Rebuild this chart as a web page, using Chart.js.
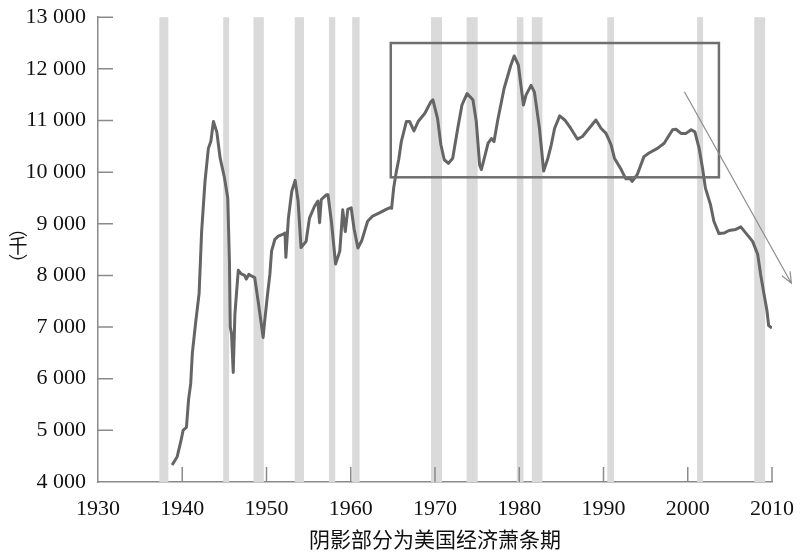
<!DOCTYPE html>
<html>
<head>
<meta charset="utf-8">
<script src="https://cdn.jsdelivr.net/npm/chart.js@4"></script>
<style>
    html, body { margin: 0; padding: 0; background: #fff; }
    #wrap { width: 800px; height: 554px; }
</style>
</head>
<body>
<div id="wrap"><canvas id="chart"></canvas></div>
<script>
// manufacturing employment, thousands
var years = [
    1938.8, 1939.4, 1939.85, 1940.1, 1940.5, 1940.75, 1941.0, 1941.2, 1941.6, 1942.0,
    1942.3, 1942.7, 1943.1, 1943.4, 1943.7, 1944.1, 1944.5, 1945.0, 1945.4, 1945.6,
    1945.7, 1945.85, 1946.05, 1946.25, 1946.65, 1947.0, 1947.4, 1947.6, 1947.9, 1948.2,
    1948.6, 1949.0, 1949.6, 1949.75, 1950.1, 1950.4, 1950.6, 1951.0, 1951.4, 1952.0,
    1952.2, 1952.3, 1952.6, 1953.0, 1953.4, 1953.75, 1954.1, 1954.7, 1955.1, 1955.7,
    1956.1, 1956.3, 1956.5, 1957.1, 1957.3, 1957.7, 1958.2, 1958.7, 1959.05, 1959.35,
    1959.65, 1960.05, 1960.4, 1960.85, 1961.3, 1962.0, 1962.6, 1963.4, 1964.2, 1964.6,
    1964.85, 1965.1, 1965.4, 1965.7, 1966.0, 1966.6, 1967.0, 1967.5, 1968.0, 1968.8,
    1969.5, 1969.75, 1970.3, 1970.7, 1971.1, 1971.6, 1972.1, 1972.7, 1973.2, 1973.8,
    1974.5, 1974.9, 1975.3, 1975.5, 1975.9, 1976.3, 1976.7, 1977.0, 1977.45, 1978.2,
    1979.0, 1979.4, 1979.9, 1980.2, 1980.5, 1980.8, 1981.4, 1981.8, 1982.4, 1982.9,
    1983.4, 1983.8, 1984.2, 1984.8, 1985.4, 1986.1, 1986.9, 1987.5, 1988.3, 1989.1,
    1989.7, 1990.3, 1990.9, 1991.3, 1992.1, 1992.65, 1993.2, 1993.4, 1994.0, 1994.8,
    1995.4, 1996.4, 1997.2, 1998.2, 1998.6, 1999.2, 1999.8, 2000.4, 2000.85, 2001.35,
    2001.75, 2002.1, 2002.7, 2003.1, 2003.7, 2004.3, 2004.9, 2005.7, 2006.3, 2006.9,
    2007.7, 2008.3, 2008.65, 2009.05, 2009.4, 2009.6, 2010.0
];
var employment = [
    4330, 4490, 4800, 5000, 5060, 5600, 5900, 6500, 7100, 7650,
    8850, 9820, 10460, 10600, 10980, 10780, 10270, 9900, 9500, 8280,
    7000, 6870, 6120, 7250, 8100, 8030, 8000, 7930, 8020, 7990,
    7960, 7510, 6800, 7060, 7600, 8020, 8470, 8700, 8760, 8800,
    8820, 8350, 9110, 9630, 9840, 9440, 8540, 8660, 9110, 9340,
    9440, 9020, 9470, 9560, 9560, 9050, 8220, 8470, 9270, 8850,
    9280, 9310, 8900, 8530, 8670, 9050, 9150, 9210, 9280, 9310,
    9300, 9700, 10000, 10250, 10590, 10980, 10980, 10800, 10980, 11140,
    11360, 11400, 11040, 10530, 10240, 10170, 10270, 10850, 11300, 11520,
    11400, 10980, 10140, 10050, 10300, 10560, 10650, 10590, 11010, 11620,
    12070, 12250, 12070, 11680, 11300, 11490, 11680, 11550, 10850, 10020,
    10270, 10530, 10850, 11090, 11010, 10850, 10640, 10690, 10850, 11010,
    10850, 10750, 10530, 10270, 10050, 9870, 9870, 9820, 9950, 10300,
    10370, 10460, 10560, 10820, 10830, 10750, 10750, 10820, 10780, 10460,
    10080, 9690, 9370, 9050, 8810, 8820, 8870, 8890, 8940, 8820,
    8660, 8410, 8020, 7640, 7320, 7030, 6980
];

// recession periods (shaded)
var recStart = [1937.28, 1944.86, 1948.45, 1953.35, 1957.41, 1960.17, 1969.53, 1973.75, 1979.71, 1981.49, 1990.45, 2001.11, 2007.89];
var recEnd   = [1938.35, 1945.57, 1949.68, 1954.45, 1958.16, 1961.05, 1970.83, 1975.06, 1980.50, 1982.75, 1991.24, 2001.82, 2009.19];

// highlight box and trend arrow
var boxYears = [1964.75, 2003.7];
var boxValues = [9900, 12500];
var arrowYears = [1999.6, 2012.3];
var arrowValues = [11555, 7850];

var xTicks = [1930, 1940, 1950, 1960, 1970, 1980, 1990, 2000, 2010];
var yTicks = [4000, 5000, 6000, 7000, 8000, 9000, 10000, 11000, 12000, 13000];
var xTitle = '阴影部分为美国经济萧条期';
var yTitle = ['︵', '千', '︶'];

var axisColor = '#8a8a8a';

var overlay = {
    id: 'overlay',
    beforeDatasetsDraw: function (chart) {
        var ctx = chart.ctx;
        var a = chart.chartArea;
        var xs = chart.scales.x;
        ctx.save();
        ctx.fillStyle = '#dadada';
        for (var i = 0; i < recStart.length; i++) {
            var x0 = xs.getPixelForValue(recStart[i]);
            var x1 = xs.getPixelForValue(recEnd[i]);
            ctx.fillRect(x0, a.top, x1 - x0, a.bottom - a.top);
        }
        ctx.restore();
    },
    afterDatasetsDraw: function (chart) {
        var ctx = chart.ctx;
        var a = chart.chartArea;
        var xs = chart.scales.x;
        var ys = chart.scales.y;
        ctx.save();

        // inward tick marks
        ctx.strokeStyle = axisColor;
        ctx.lineWidth = 1.5;
        ctx.beginPath();
        yTicks.forEach(function (v) {
            if (v === yTicks[0]) return;
            var py = ys.getPixelForValue(v);
            ctx.moveTo(a.left, py);
            ctx.lineTo(a.left + 15, py);
        });
        xTicks.forEach(function (v) {
            if (v === xTicks[0]) return;
            var px = xs.getPixelForValue(v);
            ctx.moveTo(px, a.bottom);
            ctx.lineTo(px, a.bottom - 15);
        });
        ctx.stroke();

        // box
        var bx0 = xs.getPixelForValue(boxYears[0]);
        var bx1 = xs.getPixelForValue(boxYears[1]);
        var by0 = ys.getPixelForValue(boxValues[1]);
        var by1 = ys.getPixelForValue(boxValues[0]);
        ctx.strokeStyle = '#6f6f6f';
        ctx.lineWidth = 2.5;
        ctx.strokeRect(bx0, by0, bx1 - bx0, by1 - by0);

        // arrow
        var ax0 = xs.getPixelForValue(arrowYears[0]);
        var ay0 = ys.getPixelForValue(arrowValues[0]);
        var ax1 = xs.getPixelForValue(arrowYears[1]);
        var ay1 = ys.getPixelForValue(arrowValues[1]);
        var ang = Math.atan2(ay1 - ay0, ax1 - ax0);
        ctx.strokeStyle = '#8c8c8c';
        ctx.lineWidth = 1.2;
        ctx.beginPath();
        ctx.moveTo(ax0, ay0);
        ctx.lineTo(ax1, ay1);
        ctx.moveTo(ax1 - 12 * Math.cos(ang - 0.4), ay1 - 12 * Math.sin(ang - 0.4));
        ctx.lineTo(ax1, ay1);
        ctx.lineTo(ax1 - 12 * Math.cos(ang + 0.4), ay1 - 12 * Math.sin(ang + 0.4));
        ctx.stroke();

        // vertical y title
        ctx.fillStyle = '#111';
        ctx.font = '19px "Noto Sans CJK SC"';
        ctx.textAlign = 'center';
        ctx.textBaseline = 'middle';
        var ty = 228;
        yTitle.forEach(function (ch, i) {
            ctx.fillText(ch, 18, ty + i * 18);
        });
        ctx.restore();
    }
};

var ctx = document.getElementById('chart').getContext('2d');
new Chart(ctx, {
    type: 'line',
    data: {
        datasets: [{
            data: years.map(function (y, i) { return { x: y, y: employment[i] }; }),
            borderColor: '#656565',
            borderWidth: 3,
            pointRadius: 0,
            tension: 0,
            borderJoinStyle: 'round',
            fill: false
        }]
    },
    options: {
        responsive: true,
        maintainAspectRatio: false,
        animation: false,
        layout: { padding: { top: 10, right: 21, left: 0, bottom: 0 } },
        plugins: {
            legend: { display: false },
            tooltip: { enabled: false }
        },
        scales: {
            x: {
                type: 'linear',
                min: 1930,
                max: 2010,
                afterBuildTicks: function (scale) {
                    scale.ticks = xTicks.map(function (v) { return { value: v }; });
                },
                afterFit: function (scale) { scale.height = 72; },
                grid: { display: false },
                border: { display: true, color: axisColor, width: 1.5 },
                ticks: {
                    color: '#111',
                    font: { family: '"Liberation Serif", serif', size: 22 },
                    padding: 6,
                    maxRotation: 0,
                    callback: function (v) { return String(v); }
                },
                title: {
                    display: true,
                    text: xTitle,
                    color: '#111',
                    font: { family: '"Noto Sans CJK SC"', size: 21 },
                    padding: { top: 0, bottom: 2 }
                }
            },
            y: {
                min: 4000,
                max: 13000,
                afterBuildTicks: function (scale) {
                    scale.ticks = yTicks.map(function (v) { return { value: v }; });
                },
                afterFit: function (scale) { scale.width = 98; },
                grid: { display: false },
                border: { display: true, color: axisColor, width: 1.5 },
                ticks: {
                    color: '#111',
                    font: { family: '"Liberation Serif", serif', size: 22 },
                    padding: 4,
                    callback: function (v) { return Math.round(v / 1000) + ' 000'; }
                }
            }
        }
    },
    plugins: [overlay]
});
</script>
</body>
</html>
